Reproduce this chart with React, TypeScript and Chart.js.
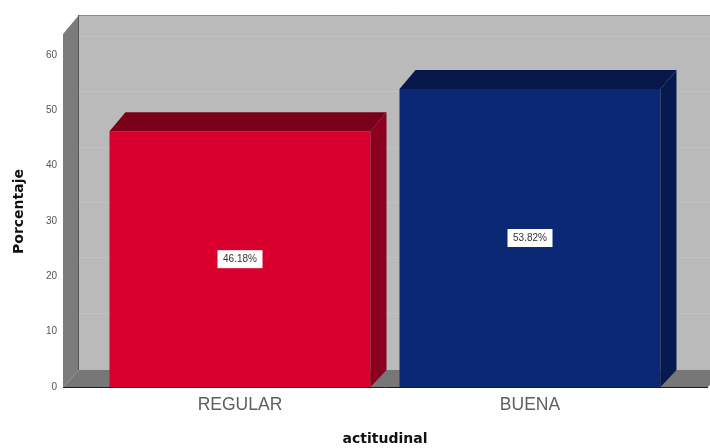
import { useEffect, useRef } from "react";
import { Chart, registerables } from "chart.js";

Chart.register(...registerables);

const categories = ["REGULAR", "BUENA"];
const percentages = [46.18, 53.82];
const frontColors = ["#d9002e", "#0a2873"];
const topColors = ["#7a0019", "#06174a"];
const sideColors = ["#8a001e", "#061a50"];
const yTicks = [0, 10, 20, 30, 40, 50, 60];

const DEPTH_X = 16;
const DEPTH_Y = 19;
const FLOOR_DEPTH = 17;
const WALL_RISE = 2;
const LABEL_W = 45;
const LABEL_H = 18;

function polygon(ctx: CanvasRenderingContext2D, pts: number[][], fill: string) {
  ctx.beginPath();
  pts.forEach(([x, y], i) => (i ? ctx.lineTo(x, y) : ctx.moveTo(x, y)));
  ctx.closePath();
  ctx.fillStyle = fill;
  ctx.fill();
}

// Draws the box the bars stand in and the depth faces of every bar.
const boxPlugin = {
  id: "box3d",
  beforeDatasetsDraw(chart: any) {
    const { ctx, scales } = chart;
    const y = scales.y;
    const wallLeft = 63;
    const floorRight = 708;
    const base = y.getPixelForValue(0);
    const top = y.top - WALL_RISE;
    ctx.save();
    // back wall
    polygon(ctx, [
      [wallLeft + DEPTH_X, top - DEPTH_Y],
      [710, top - DEPTH_Y],
      [710, base - FLOOR_DEPTH],
      [wallLeft + DEPTH_X, base - FLOOR_DEPTH],
    ], "#bababa");
    // faint rules on the back wall
    ctx.strokeStyle = "#c1c1c1";
    ctx.lineWidth = 1;
    yTicks.slice(1).forEach((t) => {
      const py = Math.round(y.getPixelForValue(t) - DEPTH_Y) + 0.5;
      ctx.beginPath();
      ctx.moveTo(wallLeft + DEPTH_X, py);
      ctx.lineTo(710, py);
      ctx.stroke();
    });
    // left wall and floor
    polygon(ctx, [
      [wallLeft, top],
      [wallLeft + DEPTH_X, top - DEPTH_Y],
      [wallLeft + DEPTH_X, base - FLOOR_DEPTH],
      [wallLeft, base],
    ], "#7b7b7b");
    polygon(ctx, [
      [wallLeft, base],
      [wallLeft + DEPTH_X, base - FLOOR_DEPTH],
      [floorRight + DEPTH_X, base - FLOOR_DEPTH],
      [floorRight, base],
    ], "#777777");
    // wall edges
    ctx.strokeStyle = "#8c8c8c";
    ctx.beginPath();
    ctx.moveTo(wallLeft + DEPTH_X, top - DEPTH_Y + 0.5);
    ctx.lineTo(710, top - DEPTH_Y + 0.5);
    ctx.stroke();
    ctx.strokeStyle = "#555555";
    ctx.beginPath();
    ctx.moveTo(wallLeft + DEPTH_X - 0.5, top - DEPTH_Y);
    ctx.lineTo(wallLeft + DEPTH_X - 0.5, base - FLOOR_DEPTH);
    ctx.stroke();
    ctx.restore();
  },
  afterDatasetsDraw(chart: any) {
    const { ctx, scales } = chart;
    const base = scales.y.getPixelForValue(0);
    const meta = chart.getDatasetMeta(0);
    ctx.save();
    meta.data.forEach((bar: any, i: number) => {
      const left = bar.x - bar.width / 2;
      const right = bar.x + bar.width / 2;
      polygon(ctx, [
        [left, bar.y],
        [left + DEPTH_X, bar.y - DEPTH_Y],
        [right + DEPTH_X, bar.y - DEPTH_Y],
        [right, bar.y],
      ], topColors[i]);
      polygon(ctx, [
        [right, bar.y],
        [right + DEPTH_X, bar.y - DEPTH_Y],
        [right + DEPTH_X, base - FLOOR_DEPTH],
        [right, base],
      ], sideColors[i]);
      // value tag centred on the bar's front face
      const cy = (bar.y + base) / 2;
      ctx.fillStyle = "#ffffff";
      ctx.fillRect(bar.x - LABEL_W / 2, cy - LABEL_H / 2, LABEL_W, LABEL_H);
      ctx.fillStyle = "#333333";
      ctx.font = "10px 'Liberation Sans'";
      ctx.textAlign = "center";
      ctx.textBaseline = "middle";
      ctx.fillText(`${percentages[i].toFixed(2)}%`, bar.x, cy + 0.5);
    });
    // front edge of the floor
    ctx.strokeStyle = "#1a1a1a";
    ctx.lineWidth = 1;
    ctx.beginPath();
    ctx.moveTo(63, base + 0.5);
    ctx.lineTo(708, base + 0.5);
    ctx.stroke();
    ctx.restore();
  },
};

export default function App() {
  const ref = useRef<HTMLCanvasElement>(null);

  useEffect(() => {
    if (!ref.current) return;
    const chart = new Chart(ref.current, {
      type: "bar",
      data: {
        labels: categories,
        datasets: [
          {
            data: percentages,
            backgroundColor: frontColors,
            borderWidth: 0,
            barPercentage: 0.9,
            categoryPercentage: 1,
          },
        ],
      },
      options: {
        responsive: false,
        animation: false,
        layout: { padding: { top: 25, right: 35, left: 0, bottom: 0 } },
        plugins: { legend: { display: false }, tooltip: { enabled: false } },
        scales: {
          x: {
            grid: { display: false },
            border: { display: false },
            ticks: {
              color: "#5f5f5f",
              font: { family: "'Liberation Sans'", size: 17.5 },
              padding: 0,
              maxRotation: 0,
            },
            title: {
              display: true,
              text: "actitudinal",
              color: "#111111",
              font: { family: "'DejaVu Sans'", size: 14, weight: "bold" },
              padding: { top: 15, bottom: 0 },
            },
            afterFit(scale: any) {
              scale.height = 61;
            },
          },
          y: {
            min: 0,
            max: 63.4,
            grid: { display: false },
            border: { display: false },
            ticks: {
              stepSize: 10,
              includeBounds: false,
              color: "#555555",
              font: { family: "'Liberation Sans'", size: 10 },
              padding: 30,
            },
            title: {
              display: true,
              text: "Porcentaje",
              color: "#111111",
              font: { family: "'DejaVu Sans'", size: 14, weight: "bold" },
              padding: { top: 11, bottom: 0 },
            },
            afterFit(scale: any) {
              scale.width = 95;
            },
          },
        },
      },
      plugins: [boxPlugin],
    } as any);
    return () => chart.destroy();
  }, []);

  return (
    <canvas
      ref={ref}
      width={710}
      height={448}
      style={{ position: "absolute", left: 0, top: 0, width: 710, height: 448 }}
    />
  );
}
